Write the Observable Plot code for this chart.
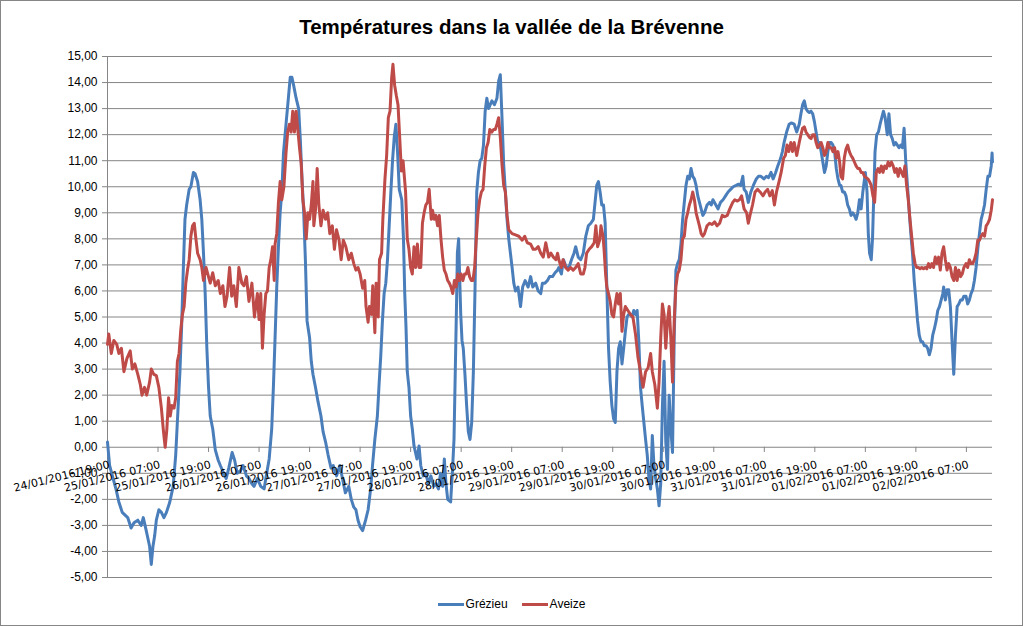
<!DOCTYPE html>
<html>
<head>
<meta charset="utf-8">
<script src="https://cdn.jsdelivr.net/npm/d3@7"></script>
<script src="https://cdn.jsdelivr.net/npm/@observablehq/plot@0.6"></script>
<style>
html, body { margin: 0; padding: 0; background: #fff; }
#chart { position: relative; width: 1023px; height: 626px; overflow: hidden; font-family: "Liberation Sans", Arial, sans-serif; background: #fff; }
#frame { position: absolute; left: 0; top: 0; width: 1023px; height: 626px; box-sizing: border-box; border: 1px solid #868686; pointer-events: none; }
#title { position: absolute; left: 0; top: 14px; width: 1023px; text-align: center; font-weight: bold; font-size: 20.5px; line-height: 26px; color: #000; }
#plot { position: absolute; left: 0; top: 40px; }
#legend { position: absolute; left: 0; top: 596px; width: 1023px; display: flex; justify-content: center; align-items: center; font-size: 12px; line-height: 16px; color: #000; }
#legend .item { display: flex; align-items: center; margin: 0 7px; }
#legend .sw { display: inline-block; width: 26px; height: 3px; margin-right: 2px; }
</style>
</head>
<body>
<div id="chart">
  <div id="title"></div>
  <div id="plot"></div>
  <div id="legend"></div>
  <div id="frame"></div>
</div>
<script>
// ---- data (hours since 24/01/2016 19:00, temperatures in °C) ----
const chartTitle = "Températures dans la vallée de la Brévenne";
const seriesNames = ["Grézieu", "Aveize"];
const seriesColors = ["#4A7EBB", "#BE4B48"];
const startLabel = "24/01/2016 19:00";
const spanHours = 210.2;

const xTickLabels = ["24/01/2016 19:00","25/01/2016 07:00","25/01/2016 19:00","26/01/2016 07:00","26/01/2016 19:00","27/01/2016 07:00","27/01/2016 19:00","28/01/2016 07:00","28/01/2016 19:00","29/01/2016 07:00","29/01/2016 19:00","30/01/2016 07:00","30/01/2016 19:00","31/01/2016 07:00","31/01/2016 19:00","01/02/2016 07:00","01/02/2016 19:00","02/02/2016 07:00"];
const yTickValues = [-5,-4,-3,-2,-1,0,1,2,3,4,5,6,7,8,9,10,11,12,13,14,15];

const grezieuHours = [0,0.5,2,2.7,3.5,4.8,5.6,6.3,7.2,8,8.5,9.2,10,10.4,10.8,11.2,11.6,12.2,12.8,13.4,14,14.8,15.6,16.2,16.6,17.2,17.6,18,18.4,18.8,19.4,19.8,20.4,20.8,21.4,22,22.4,22.8,23.2,23.6,24,24.4,25,25.6,26.3,26.8,27.6,28.2,28.8,29.6,30.2,30.8,31.6,32.2,33,33.6,34.3,34.8,35.6,36.4,37.2,37.6,38.4,39,39.4,39.8,40.2,40.6,41,41.4,41.8,42.4,42.9,43.4,43.8,44.2,44.8,45.4,45.8,46.2,46.6,47,47.4,48,48.4,48.8,49.4,50,50.7,51.2,51.8,52.4,53.1,53.6,54.4,55.2,55.8,56.5,57.3,57.9,58.5,59,59.5,60,60.6,61.3,61.9,62.5,63,63.5,64.1,64.5,64.9,65.3,65.7,66.1,66.5,66.9,67.3,67.7,68.1,68.5,68.9,69.3,69.9,70.3,70.6,70.9,71.2,71.6,72,72.4,72.8,73.5,74,74.4,75,75.6,76.2,76.8,77.5,78,78.6,79.1,79.6,80,80.4,80.8,81.5,81.9,82.3,82.6,82.9,83.1,83.4,83.6,83.9,84.2,84.5,84.9,85.3,85.7,86.1,86.5,86.9,87.3,87.7,88.1,88.5,88.9,89.3,89.7,90.1,90.5,90.9,91.3,91.9,92.5,92.9,93.3,93.7,94.1,94.5,94.9,95.3,95.7,96.1,96.5,96.9,97.5,98.1,98.6,99.2,99.9,100.5,101,101.7,102.3,102.9,103.3,103.9,104.5,105,105.7,106.3,106.9,107.2,107.8,108.3,109,109.6,110.2,110.8,111.2,111.8,112.4,113,113.6,114.2,114.8,115.4,115.8,116.2,116.6,117,117.4,117.8,118.2,118.6,119,119.4,119.8,120.2,120.6,121,121.4,121.8,122.2,122.6,123,123.4,123.8,124.2,124.6,125,125.4,125.8,126.2,126.6,127,127.4,127.8,128.2,128.6,129,129.4,129.8,130.2,130.6,131,131.4,131.8,132.2,132.6,133,133.4,133.8,134.2,134.6,135,135.4,135.8,136.2,136.6,137,137.4,137.8,138.2,138.6,139,139.4,139.8,140.2,140.6,141,141.4,141.8,142.4,143,143.4,143.8,144.5,145,145.6,146.2,146.8,147.4,148,148.6,149.3,149.9,150.4,150.9,151.2,151.7,152.2,152.8,153.4,154.1,154.6,155.2,155.9,156.5,157,157.6,158.1,158.7,159.2,159.9,160.3,160.7,161.3,161.9,162.4,163.1,163.7,164.3,164.7,165.1,165.5,165.9,166.3,166.7,167.1,167.5,167.9,168.3,168.7,169.1,169.5,169.9,170.3,170.7,171.1,171.5,171.9,172.3,172.7,173.1,173.5,173.9,174.2,174.6,175,175.4,175.8,176.2,176.6,177,177.4,177.8,178.2,178.6,179,179.4,179.8,180,180.4,180.7,181,181.4,181.7,182,182.3,182.7,183.1,183.5,183.9,184.3,184.7,185.2,185.6,186,186.4,186.8,187.2,187.6,188,188.4,188.8,189.2,189.6,190,190.4,190.8,191.2,191.6,192,192.4,192.8,193.2,193.6,194,194.4,194.8,195.2,195.6,196,196.4,196.8,197.2,197.6,198,198.4,198.6,199,199.4,199.8,200.2,200.6,201,201.4,201.8,202.2,202.6,203,203.4,203.9,204.3,204.7,205.1,205.5,205.9,206.3,206.7,207.1,207.5,207.9,208.3,208.7,209.1,209.5,209.9,210.1,210.2];
const grezieuTemps = [0.2,-0.7,-1.6,-2.1,-2.5,-2.7,-3.1,-2.9,-2.8,-3.0,-2.7,-3.2,-3.8,-4.5,-3.8,-3.4,-2.8,-2.4,-2.5,-2.7,-2.5,-2.1,-1.5,-0.3,1.0,2.9,4.6,6.8,8.75,9.3,9.9,10.0,10.55,10.5,10.2,9.5,8.75,7.45,5.9,3.8,2.3,1.2,0.7,-0.1,-0.5,-0.7,-1.0,-1.2,-0.8,-0.2,-0.5,-1.0,-0.9,-0.7,-1.1,-1.2,-1.4,-1.5,-1.2,-1.5,-1.6,-1.2,-0.45,0.7,2.3,4.2,6.15,7.7,9.0,9.8,11.3,12.4,13.3,14.2,14.2,13.9,13.4,13.0,11.8,10.3,9.0,7.2,4.85,4.2,3.3,2.8,2.3,1.75,1.2,0.6,0.2,-0.3,-0.8,-0.7,-1.1,-0.7,-1.2,-1.75,-1.5,-2.0,-2.3,-2.4,-2.8,-3.05,-3.2,-2.8,-2.4,-1.6,-0.6,0.3,1.2,2.4,3.5,4.85,5.9,6.3,7.2,8.5,9.8,11.0,11.9,12.4,11.3,9.9,9.5,8.0,5.9,4.6,2.9,2.3,1.2,0.7,0.05,-0.45,0.05,-0.7,-1.1,-1.0,-1.4,-1.1,-1.5,-1.4,-1.6,-1.0,-1.5,-0.45,-1.4,-2.0,-2.1,-1.0,0.3,2.9,5.5,7.45,8.0,6.8,5.1,4.1,3.8,2.8,1.6,0.6,0.3,0.95,2.9,6.15,9.8,10.55,11.0,11.1,11.6,12.9,13.4,13.0,13.15,13.3,13.15,13.4,14.05,14.3,12.65,10.85,9.8,8.75,8.0,7.45,6.9,6.3,6.0,6.15,5.4,6.15,6.4,6.15,6.55,6.15,6.3,6.0,5.9,6.3,6.3,6.4,6.55,6.55,6.7,6.8,6.9,6.65,7.2,6.9,6.9,7.2,7.45,7.7,7.3,7.2,7.45,8.1,8.5,8.6,8.75,9.4,10.05,10.2,9.8,9.3,9.3,8.6,6.15,3.8,2.5,1.6,1.1,0.95,2.9,3.8,4.05,3.2,3.8,4.45,5.0,5.1,5.1,5.0,5.25,5.1,5.25,4.05,2.3,1.6,0.95,0.3,-0.3,-1.2,-1.6,0.45,-0.7,-1.2,-1.6,-2.25,-1.4,1.6,3.3,0.2,-0.85,2.0,0.7,-0.2,4.2,6.8,7.05,7.2,7.8,8.75,9.4,10.05,10.4,10.3,10.7,10.4,10.3,10.05,9.65,9.4,9.15,8.9,9.0,9.3,9.4,9.3,9.5,9.3,9.15,9.4,9.5,9.65,9.8,9.9,10.0,10.05,10.1,10.05,10.4,9.9,9.8,9.4,9.8,10.05,10.3,10.4,10.4,10.3,10.4,10.35,10.55,10.3,10.55,10.8,11.1,11.35,11.7,12.1,12.4,12.45,12.4,12.1,12.4,12.8,13.15,13.3,13.0,12.9,12.85,12.9,12.8,12.5,12.1,11.7,11.7,11.35,10.95,10.55,10.8,11.35,11.7,11.7,11.6,11.35,10.7,10.3,10.05,10.05,9.8,9.8,9.65,9.3,9.15,8.9,9.0,8.9,8.75,9.0,9.5,9.15,9.8,10.3,10.55,9.8,8.2,7.45,7.2,8.0,9.65,11.35,12.0,12.1,12.4,12.65,12.9,12.65,12.0,12.8,12.0,11.85,11.6,11.7,11.6,11.5,11.6,11.5,12.25,10.95,10.05,9.1,8.2,7.45,6.4,5.65,4.85,4.3,4.05,4.05,3.9,3.9,3.8,3.55,3.8,4.3,4.55,4.85,5.25,5.4,5.65,5.9,6.15,5.65,6.05,6.05,5.4,4.05,2.8,4.3,5.4,5.5,5.65,5.65,5.8,5.8,5.5,5.65,5.9,6.05,6.4,6.9,7.6,8.2,8.75,9.0,9.3,9.9,10.4,10.4,10.8,11.3,10.95];

const aveizeHours = [0,0.3,0.9,1.5,2.2,2.7,3.3,3.9,4.6,5.4,5.9,6.5,7.2,7.8,8.2,8.8,9.3,10,10.4,11,11.6,12.2,12.8,13.3,13.7,14.1,14.5,14.9,15.3,15.8,16.2,16.6,17,17.4,17.8,18.2,18.6,19,19.4,19.8,20.2,20.6,21,21.4,22,22.4,22.8,23.4,23.9,24.4,25,25.6,26.3,26.8,27.4,27.9,28.4,29,29.5,30,30.6,31.2,31.9,32.4,33,33.6,34.3,34.9,35.6,36,36.4,36.8,37.2,37.6,38,38.4,38.8,39.2,39.6,39.8,40.2,40.6,41,41.4,41.9,42.4,42.8,43.2,43.6,44,44.4,44.8,45.2,45.6,46,46.4,46.8,47.2,47.6,48,48.4,48.8,49,49.4,49.8,50.2,50.7,51.2,51.8,52.3,52.8,53.4,53.9,54.4,55,55.5,56,56.6,57.3,57.9,58.5,59,59.5,60,60.6,61.1,61.4,61.9,62.2,62.7,63,63.5,63.8,64.3,64.6,65.1,65.4,65.9,66.3,66.7,67.1,67.5,67.8,68.2,68.6,69,69.4,69.8,70.2,70.8,71.2,71.6,72,72.4,72.8,73.2,73.6,74,74.4,74.8,75.2,75.6,76,76.4,76.9,77.2,77.6,78,78.4,78.8,79.2,79.6,80,80.4,80.8,81.2,81.6,82,82.4,82.8,83.2,83.6,84,84.4,84.8,85.2,85.6,86,86.4,86.8,87.2,87.6,88,88.4,88.8,89.2,89.6,90,90.4,90.8,91.3,91.7,92.1,92.5,92.9,93.3,93.7,94.1,94.5,94.9,95.3,96.1,96.9,97.7,98.5,99.1,99.7,100.5,101.1,101.7,102.3,102.9,103.5,104.1,104.8,105.3,105.9,106.5,106.9,107.2,107.8,108.2,108.8,109.4,110,110.6,111.2,111.8,112.4,113,113.4,113.8,114.4,115,115.6,116,116.4,116.9,117.2,117.7,118,118.3,118.6,119,119.4,119.8,120.2,120.6,121,121.4,121.8,122.2,122.6,123,123.6,124.2,124.8,125.4,126,126.6,127.2,127.8,128.4,129,129.4,130,130.6,131,131.4,131.8,132.2,132.6,133,133.4,133.8,134.2,134.6,135,135.4,135.8,136.2,136.6,137,137.4,137.8,138.2,138.6,139,139.4,139.8,140.2,140.6,141,141.4,141.8,142.4,143,143.6,144.2,144.8,145.4,146,146.6,147.2,147.8,148.5,149,149.6,150.1,150.6,151.2,151.8,152.2,152.6,153.2,153.8,154.4,155,155.7,156.2,156.8,157.3,157.9,158.4,158.9,159.5,160,160.6,161,161.4,161.8,162.3,162.7,163.1,163.7,164.3,164.7,165.1,165.5,165.9,166.3,166.7,167.1,167.5,167.9,168.3,168.7,169.1,169.5,169.9,170.3,170.7,171.1,171.5,171.9,172.3,172.7,173.1,173.5,173.9,174.2,174.6,175,175.4,175.8,176.2,176.6,177,177.4,177.8,178.2,178.6,179,179.4,179.8,180.2,180.6,181,181.4,181.8,182.2,182.6,183,183.4,183.8,184.2,184.6,185,185.4,185.8,186.2,186.6,187,187.4,187.8,188.2,188.6,189,189.4,189.8,190.2,190.6,191,191.4,191.8,192.2,192.6,193,193.4,193.8,194.2,194.6,195,195.4,195.8,196.2,196.6,197,197.4,197.8,198.2,198.6,199,199.4,199.8,200.2,200.6,201,201.4,201.8,202.2,202.6,203,203.4,203.9,204.3,204.7,205.1,205.5,205.9,206.3,206.7,207.1,207.5,207.9,208.3,208.7,209.1,209.5,209.9,210.2];
const aveizeTemps = [3.95,4.35,3.6,4.1,3.95,3.6,3.8,2.9,3.4,3.7,3.0,3.2,2.8,2.4,2.0,2.3,2.0,2.5,3.0,2.8,2.75,2.3,1.5,0.6,0.0,0.7,1.9,1.2,1.6,1.5,1.9,3.3,3.6,4.5,5.1,5.4,6.3,6.8,7.2,8.1,8.5,8.6,8.0,7.45,7.2,6.9,6.4,6.9,6.6,6.3,6.7,6.2,6.4,5.9,6.2,5.4,5.8,6.9,5.8,6.2,5.4,6.9,6.3,6.2,6.55,5.6,6.3,5.0,5.9,4.9,5.9,3.8,5.1,5.9,6.0,6.9,7.2,7.7,6.4,7.8,8.2,9.4,10.2,9.5,10.0,11.3,12.1,12.4,12.1,12.9,12.1,12.9,12.2,11.5,10.9,9.5,9.0,8.0,9.0,8.75,9.3,10.2,8.5,9.1,10.7,9.3,8.5,9.1,8.75,9.0,8.2,8.5,7.6,8.35,7.95,7.2,7.95,7.7,7.2,7.45,7.05,6.8,6.9,6.65,6.1,6.4,5.4,4.8,5.4,5.1,6.2,4.4,6.3,5.0,7.2,7.45,8.75,10.3,11.2,12.65,12.9,14.2,14.7,13.9,13.5,13.15,11.9,10.6,11.0,9.8,8.0,7.6,6.9,6.65,7.7,6.9,7.8,6.9,6.9,8.6,9.0,9.3,9.4,9.9,8.75,9.1,8.75,8.9,8.5,8.9,8.0,7.3,6.8,6.65,6.4,6.3,6.15,5.9,6.4,6.15,6.65,6.4,6.65,6.4,6.65,6.65,6.9,6.55,6.4,6.4,6.9,8.0,9.0,9.5,9.8,9.9,10.8,11.5,11.7,12.2,12.1,12.2,12.2,12.4,12.65,11.9,10.85,10.05,9.8,8.9,8.35,8.2,8.15,8.1,7.95,8.1,7.85,7.8,7.6,7.6,7.7,7.45,7.3,7.85,7.3,7.45,7.3,7.2,7.45,7.2,6.9,7.2,6.9,6.8,6.9,6.8,6.9,7.05,6.65,6.65,6.9,7.45,7.6,7.7,7.85,8.5,7.7,7.95,8.5,8.1,7.45,6.65,6.15,5.9,5.6,5.1,5.0,5.5,5.9,5.5,5.9,4.45,5.1,5.4,5.25,5.1,5.0,4.35,3.45,2.9,2.3,2.9,3.05,3.6,2.9,2.4,1.5,2.5,4.2,5.5,5.1,3.8,4.85,5.4,4.2,2.5,4.85,6.15,6.65,6.8,7.2,8.0,8.1,8.75,9.0,9.3,9.5,9.8,9.5,9.0,8.75,8.5,8.2,8.1,8.2,8.5,8.6,8.55,8.65,8.5,8.6,8.9,8.85,8.9,9.15,9.4,9.5,9.45,9.5,9.65,9.15,9.0,8.6,8.9,9.3,9.8,9.9,9.8,9.65,9.8,9.9,9.65,9.85,9.3,9.8,10.2,10.55,11.1,11.2,11.6,11.35,11.7,11.35,11.7,11.2,11.7,12.0,12.25,12.3,12.1,12.0,11.9,11.85,12.0,12.0,11.7,11.5,11.6,11.7,11.5,11.2,11.35,11.7,11.5,11.5,11.35,11.5,11.1,11.35,10.95,10.4,10.3,11.1,11.45,11.6,11.35,11.2,11.1,10.95,10.8,10.7,10.7,10.55,10.55,10.4,10.35,10.3,10.2,10.05,9.65,9.4,10.55,10.7,10.55,10.8,10.55,10.8,10.7,10.95,10.8,10.95,10.8,10.55,10.7,10.4,10.7,10.55,10.4,10.8,10.05,9.5,8.75,8.1,7.45,7.05,6.9,6.9,6.85,6.9,6.85,6.9,6.85,7.05,6.9,7.05,6.9,7.3,7.05,7.3,6.8,7.45,7.7,7.2,6.8,7.05,6.9,6.55,6.4,6.9,6.4,6.8,6.55,6.65,6.9,7.05,6.9,7.2,7.05,7.05,7.2,7.45,7.95,7.95,8.1,8.2,8.1,8.5,8.6,8.75,9.1,9.5];

// ---- build ----
const parseT = d3.utcParse("%d/%m/%Y %H:%M");
const t0 = parseT(startLabel);
const at = h => new Date(t0.getTime() + h * 3600000);
const tEnd = at(spanHours);
const series = [
  {name: seriesNames[0], hours: grezieuHours, temps: grezieuTemps, color: seriesColors[0]},
  {name: seriesNames[1], hours: aveizeHours, temps: aveizeTemps, color: seriesColors[1]}
];
const rows = s => s.hours.map((h, i) => ({t: at(h), v: s.temps[i]}));
const xTicks = xTickLabels.map(l => ({t: parseT(l), label: l}));
const fmtY = d => d.toFixed(2).replace(".", ",");
const gridColor = "#868686";

const chart = Plot.plot({
  width: 1023,
  height: 560,
  marginLeft: 107,
  marginRight: 31,
  marginTop: 16,
  marginBottom: 23,
  style: {fontFamily: "'Liberation Sans', Arial, sans-serif", fontSize: "12px", color: "#000", background: "transparent", overflow: "visible"},
  x: {type: "utc", domain: [t0, tEnd], axis: null},
  y: {domain: [-5, 15], axis: null},
  marks: [
    Plot.gridY(yTickValues, {stroke: gridColor, strokeOpacity: 1, strokeWidth: 1}),
    Plot.axisY(yTickValues, {tickSize: 5, tickPadding: 5, stroke: gridColor, tickFormat: fmtY, label: null, fill: "#000", fontSize: 12}),
    Plot.ruleX([t0], {stroke: gridColor, strokeWidth: 1}),
    Plot.ruleX(xTicks, {x: "t", y1: 0, y2: -0.2, stroke: gridColor, strokeWidth: 1}),
    ...series.map(s => Plot.line(rows(s), {x: "t", y: "v", stroke: s.color, strokeWidth: 3, strokeLinejoin: "round", strokeLinecap: "round"})),
    Plot.text(xTicks, {x: "t", y: 0, text: "label", rotate: -14, textAnchor: "end", lineAnchor: "top", dy: 13, dx: 1, fontSize: 11, fontFamily: "'DejaVu Sans', sans-serif", fill: "#000"})
  ]
});
document.getElementById("plot").appendChild(chart);
document.getElementById("title").textContent = chartTitle;
const legend = document.getElementById("legend");
series.forEach(s => {
  const item = document.createElement("span");
  item.className = "item";
  const sw = document.createElement("span");
  sw.className = "sw";
  sw.style.background = s.color;
  item.appendChild(sw);
  item.appendChild(document.createTextNode(s.name));
  legend.appendChild(item);
});
</script>
</body>
</html>
